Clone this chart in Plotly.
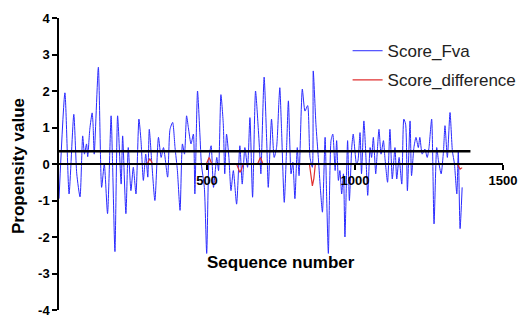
import plotly.graph_objects as go

# Score_Fva (blue) - traced peaks/troughs
fva_x = [0, 20, 34, 50, 60, 71, 80, 86, 93, 97, 104, 112, 115, 119, 133, 144, 153, 164, 176, 181,
         189, 198, 210, 215, 226, 234, 243, 251, 260, 270, 277, 285, 293, 300, 305, 313, 324, 336, 345, 353,
         367, 375, 384, 392, 400, 409, 417, 424, 431, 437, 446, 454, 459, 468, 476, 481, 491, 499, 507, 514,
         522, 533, 539, 547, 555, 560, 566, 574, 581, 589, 600, 611, 619, 628, 637, 645, 654, 664, 673, 679,
         682, 693, 702, 707, 718, 727, 735, 743, 746, 752, 761, 769, 775, 784, 790, 797, 805, 811, 822, 831,
         840, 848, 856, 859, 868, 876, 882, 890, 899, 904, 910, 919, 925, 933, 938, 944, 949, 955, 961, 966,
         975, 981, 989, 994, 1005, 1010, 1017, 1022, 1030, 1037, 1043, 1051, 1056, 1062, 1070, 1074, 1081, 1088, 1096, 1101,
         1110, 1118, 1126, 1135, 1141, 1149, 1158, 1165, 1171, 1177, 1186, 1191, 1199, 1206, 1214, 1219, 1227, 1236, 1244, 1250,
         1259, 1267, 1276, 1282, 1291, 1299, 1304, 1312, 1321, 1329, 1336, 1344, 1349, 1355, 1362]
fva_y = [-0.95, 1.95, -0.82, 1.36, -0.27, -0.9, 0.77, 0.27, 0.55, 0.2, 0.95, 1.4, 1.1, 0.27, 2.65, -0.64, 0.0, -1.36, 1.32, 0.0,
         -2.4, 1.32, -0.55, 0.77, -1.36, 0.45, -0.73, -0.09, -0.82, 1.23, 0.64, -0.45, 0.27, -0.36, 0.95, 0.09, -1.0, 0.73, 0.18, 0.45,
         -0.36, 0.95, 1.14, 0.45, -0.18, -1.27, 0.55, 0.27, 1.32, 1.0, 0.55, 0.82, -0.82, 2.0, 0.82, 0.0, -0.64, -2.45, 0.18, 0.5,
         -0.64, 0.18, -0.18, 1.9, 1.1, -0.27, 0.82, 0.18, -0.73, -0.18, -1.1, 0.5, -0.55, 0.45, -0.09, 1.27, -0.91, 2.0, 1.0, 0.18,
         -0.27, 2.38, 0.55, -0.64, 1.23, 0.18, 0.45, 1.73, 2.09, 0.91, -1.05, 0.45, 1.73, -0.27, 0.05, -0.95, 0.45, -0.32, 2.05, 1.45,
         1.6, 0.18, -0.09, 2.55, 1.09, 0.18, -0.55, -1.32, 0.73, -0.82, -2.45, 0.64, 0.82, -0.18, 0.64, -0.45, -0.18, -0.82, -0.27, -2.0,
         0.64, -1.0, 0.45, 0.82, 0.0, 0.09, 0.86, -0.27, 1.18, 0.18, -0.86, 0.45, 0.18, 0.73, -0.27, 0.18, 0.95, 0.27, 0.64, 0.18,
         -0.5, 0.95, -0.41, 0.45, -0.41, 0.18, -0.55, 1.23, 1.09, -0.73, 1.18, -0.32, 0.45, 0.73, 0.45, 0.73, 0.27, 0.41, 0.18, 0.45,
         1.23, -1.64, 0.45, 0.09, -0.27, 0.36, 1.05, 0.18, 1.41, 0.36, 0.0, -0.82, 0.36, -1.77, -0.64]

# Score_difference (red)
diff_x = [0, 298, 304, 307, 310, 316, 498, 504, 507, 510, 516, 600, 606, 611, 616, 622, 671, 677, 680, 683, 689,
          846, 851, 856, 861, 866, 1346, 1351, 1355, 1359, 1362]
diff_y = [0, 0, 0.1, 0.14, 0.1, 0, 0, 0.13, 0.18, 0.13, 0, 0, -0.16, -0.23, -0.16, 0, 0, 0.13, 0.18, 0.13, 0,
          0, -0.4, -0.6, -0.4, 0, 0, -0.1, -0.14, -0.12, -0.1]

# threshold line
thr_x = [0, 1390]
thr_y = [0.35, 0.35]

x_ticks = [500, 1000, 1500]
y_ticks = [-4, -3, -2, -1, 0, 1, 2, 3, 4]

FONT = "Liberation Sans, Arial, sans-serif"
ML, MR, MT, MB = 59, 20, 18, 8

fig = go.Figure()
fig.add_trace(go.Scatter(x=fva_x, y=fva_y, mode="lines", name="Score_Fva",
                         line=dict(color="#2a2aff", width=1, shape="spline", smoothing=0.6),
                         legendgroup="a"))
fig.add_trace(go.Scatter(x=diff_x, y=diff_y, mode="lines", name="Score_difference",
                         line=dict(color="#e03030", width=1.2),
                         legendgroup="b"))
fig.add_trace(go.Scatter(x=thr_x, y=thr_y, mode="lines", showlegend=False,
                         line=dict(color="black", width=2.5)))

fig.update_layout(
    width=523, height=318,
    margin=dict(l=ML, r=MR, t=MT, b=MB, autoexpand=False),
    paper_bgcolor="white", plot_bgcolor="white",
    font=dict(family=FONT, color="black"),
    showlegend=True,
    legend=dict(x=0.65, y=0.948, xanchor="left", yanchor="top",
                font=dict(size=17, color="#222"), bgcolor="rgba(0,0,0,0)",
                traceorder="grouped", tracegroupgap=4),
    xaxis=dict(range=[0, 1500], tickvals=x_ticks, ticktext=["<b>%d</b>" % v for v in x_ticks],
               showgrid=False, zeroline=False, showline=True, linecolor="black", linewidth=1.5,
               ticks="outside", ticklen=5, tickwidth=1.5, tickcolor="black",
               anchor="free", position=0.5, ticklabeloverflow="allow", automargin=False,
               tickfont=dict(size=13, family=FONT, color="black")),
    yaxis=dict(range=[-4, 4], tickvals=y_ticks, ticktext=["<b>%d</b>" % v for v in y_ticks],
               showgrid=False, zeroline=False,
               showline=True, linecolor="black", linewidth=1.5,
               ticks="outside", ticklen=5, tickwidth=1.5, tickcolor="black",
               ticklabeloverflow="allow", automargin=False,
               tickfont=dict(size=13, family=FONT, color="black")),
    annotations=[
        dict(text="<b>Propensity value</b>", x=18, y=166, xref="paper", yref="paper",
             xanchor="center", yanchor="middle",
             showarrow=False, textangle=-90, font=dict(size=17)),
        dict(text="<b>Sequence number</b>", x=281, y=262, xref="paper", yref="paper",
             xanchor="center", yanchor="middle",
             showarrow=False, font=dict(size=17)),
    ],
)

# convert annotation pixel positions to paper fractions
W, H = 523 - ML - MR, 318 - MT - MB
for ann in fig.layout.annotations:
    px, py = ann.x, ann.y
    ann.x = (px - ML) / W
    ann.y = 1 - (py - MT) / H

fig.write_html("out.html", config={"displayModeBar": False},
               post_script="document.body.style.margin='0';")
